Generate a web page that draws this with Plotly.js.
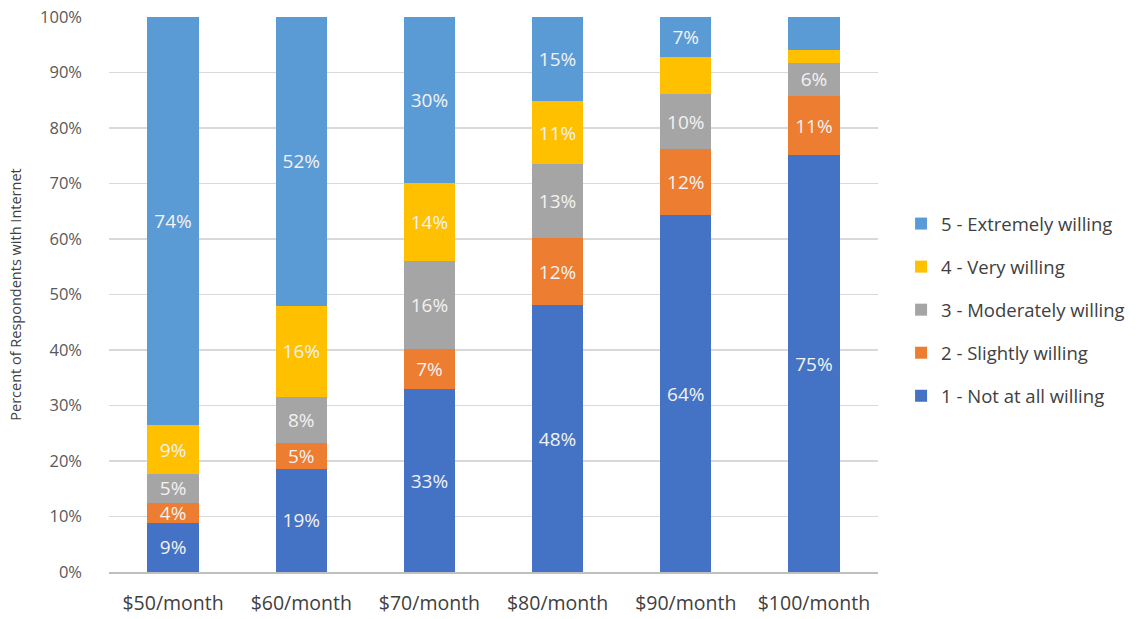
<!DOCTYPE html>
<html>
<head>
<meta charset="utf-8">
<script src="https://cdn.plot.ly/plotly-3.0.1.min.js"></script>
<style>html,body{margin:0;padding:0;background:#fff;}#chart{width:1148px;height:619px;}</style>
</head>
<body>
<div id="chart"></div>
<script>
const categories = ["$50/month", "$60/month", "$70/month", "$80/month", "$90/month", "$100/month"];
const seriesNames = ["1 - Not at all willing", "2 - Slightly willing", "3 - Moderately willing", "4 - Very willing", "5 - Extremely willing"];
const notAtAll   = [8.9, 18.6, 32.9, 48.1, 64.3, 75.1];
const slightly   = [3.6, 4.6, 7.2, 12.0, 11.9, 10.7];
const moderately = [5.1, 8.4, 15.9, 13.4, 9.9, 6.0];
const very       = [8.8, 16.4, 14.1, 11.3, 6.7, 2.3];
const extremely  = [73.6, 52.0, 29.9, 15.2, 7.2, 5.9];
// which data labels are shown in the reference
const showNotAtAll   = [true, true, true, true, true, true];
const showSlightly   = [true, true, true, true, true, true];
const showModerately = [true, true, true, true, true, true];
const showVery       = [true, true, true, true, false, false];
const showExtremely  = [true, true, true, true, true, false];
const colors = ["#4472C4", "#ED7D31", "#A5A5A5", "#FFC000", "#5B9BD5"];

const values = [notAtAll, slightly, moderately, very, extremely];
const shows = [showNotAtAll, showSlightly, showModerately, showVery, showExtremely];

const FONT = "'Open Sans', 'Noto Sans', sans-serif";

const traces = values.map((v, i) => ({
  type: 'bar',
  name: seriesNames[i],
  legendgroup: 'g' + i,
  legendrank: 1000 - i,
  x: categories,
  y: v,
  text: v.map((val, j) => shows[i][j] ? Math.round(val) + '%' : ''),
  textposition: 'inside',
  insidetextanchor: 'middle',
  textangle: 0,
  constraintext: 'none',
  textfont: {family: FONT, size: 19, color: '#f2f2f2'},
  marker: {color: colors[i], line: {width: 0}},
  hoverinfo: 'x+y+name'
}));

const layout = {
  width: 1148, height: 619,
  margin: {l: 109, r: 270, t: 17, b: 47, pad: 0},
  paper_bgcolor: '#ffffff', plot_bgcolor: '#ffffff',
  barmode: 'stack',
  bargap: 0.6,
  font: {family: FONT, color: '#595959'},
  xaxis: {
    type: 'category',
    showgrid: false,
    showline: true, linecolor: '#bfbfbf', linewidth: 2,
    ticks: '', tickfont: {family: FONT, size: 19.5, color: '#404040'},
    ticklabelstandoff: 13,
    automargin: false,
    fixedrange: true
  },
  yaxis: {
    range: [0, 100],
    dtick: 10,
    ticksuffix: '%',
    showgrid: true, gridcolor: '#d9d9d9', gridwidth: 1.5,
    zeroline: false, showline: false,
    ticks: '', tickfont: {family: FONT, size: 16.5, color: '#595959'},
    ticklabelstandoff: 26,
    automargin: false,
    title: {text: 'Percent of Respondents with Internet', font: {family: FONT, size: 14.5, color: '#404040'}, standoff: 14},
    fixedrange: true
  },
  legend: {
    x: 1.03, xanchor: 'left',
    y: 0.472, yanchor: 'middle',
    traceorder: 'grouped',
    tracegroupgap: 16,
    font: {family: FONT, size: 18.5, color: '#404040'},
    bgcolor: 'rgba(0,0,0,0)'
  },
  showlegend: true
};

Plotly.newPlot('chart', traces, layout, {displayModeBar: false, staticPlot: true});
</script>
</body>
</html>
